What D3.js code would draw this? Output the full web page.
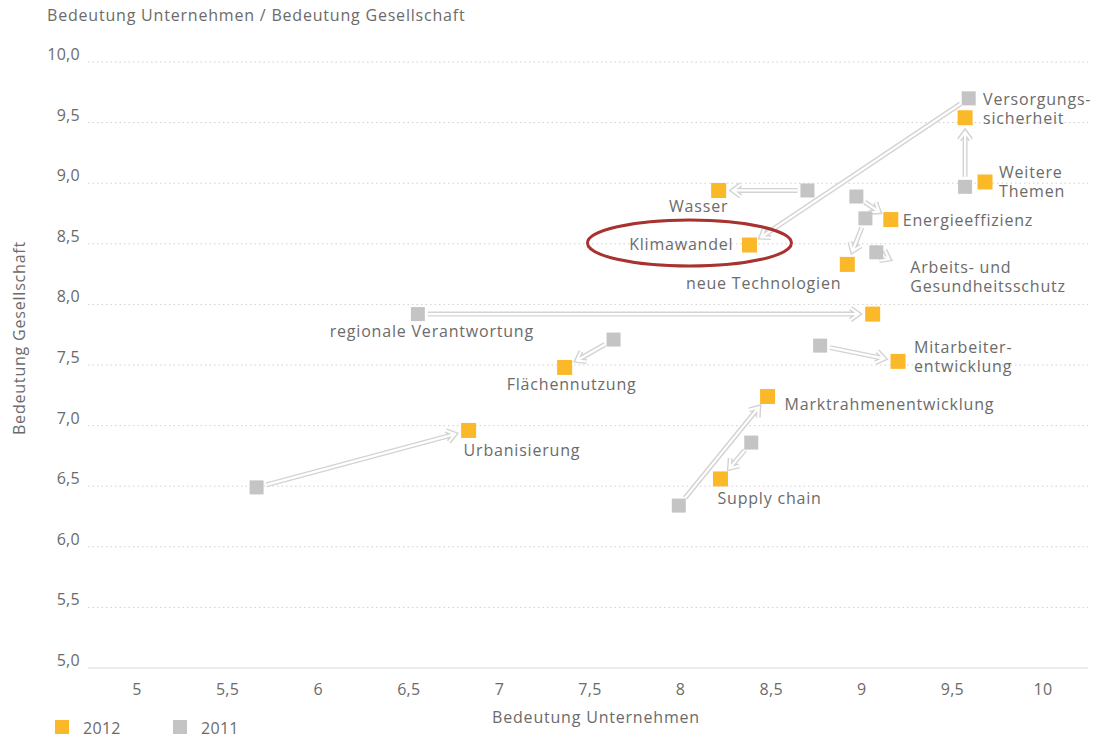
<!DOCTYPE html>
<html>
<head>
<meta charset="utf-8">
<script src="https://cdn.jsdelivr.net/npm/d3@7"></script>
<style>
body { margin: 0; background: #fff; }
text { font-family: "Open Sans", "Noto Sans", sans-serif; fill: #6b6b6b; letter-spacing: 0.8px; }
.tick-label { letter-spacing: 0.3px; }
.grid line { stroke: #cfcfcf; stroke-dasharray: 1.5 3; }
</style>
</head>
<body>
<script>
// topics and their values (x = Bedeutung Unternehmen, y = Bedeutung Gesellschaft)
var topics = ["Versorgungssicherheit", "Weitere Themen", "Wasser", "Energieeffizienz", "Klimawandel",
	"neue Technologien", "Arbeits- und Gesundheitsschutz", "regionale Verantwortung",
	"Mitarbeiterentwicklung", "Flächennutzung", "Marktrahmenentwicklung", "Urbanisierung", "Supply chain"];
var x2012 = [9.57, 9.68, 8.21, 9.16, 8.38, 8.92, 9.22, 9.06, 9.20, 7.36, 8.48, 6.83, 8.22];
var y2012 = [9.54, 9.01, 8.94, 8.70, 8.49, 8.33, 8.32, 7.92, 7.53, 7.48, 7.24, 6.96, 6.56];
var x2011 = [9.57, null, 8.70, 8.97, 9.59, 9.02, 9.08, 6.55, 8.77, 7.63, 7.99, 5.66, 8.39];
var y2011 = [8.97, null, 8.94, 8.89, 9.70, 8.71, 8.43, 7.92, 7.66, 7.71, 6.34, 6.49, 6.86];
var hide2012 = ["Arbeits- und Gesundheitsschutz"];

var xTicks = [5, 5.5, 6, 6.5, 7, 7.5, 8, 8.5, 9, 9.5, 10];
var yTicks = [5, 5.5, 6, 6.5, 7, 7.5, 8, 8.5, 9, 9.5, 10];
var seriesNames = ["2012", "2011"];
var colors = {"2012": "#fbb829", "2011": "#c4c4c4"};

// label placement (offset from the marker, lines)
var labels = {
	"Versorgungssicherheit": {ref: "2012", dx: 18, dy: -13, anchor: "start", lines: ["Versorgungs-", "sicherheit"]},
	"Weitere Themen": {ref: "2012", dx: 14, dy: -4, anchor: "start", lines: ["Weitere", "Themen"]},
	"Wasser": {ref: "2012", dx: -20, dy: 22, anchor: "middle", lines: ["Wasser"]},
	"Energieeffizienz": {ref: "2012", dx: 12, dy: 6, anchor: "start", lines: ["Energieeffizienz"]},
	"Klimawandel": {ref: "2012", dx: -16, dy: 5, anchor: "end", lines: ["Klimawandel"]},
	"neue Technologien": {ref: "2012", dx: -6, dy: 25, anchor: "end", lines: ["neue Technologien"]},
	"Arbeits- und Gesundheitsschutz": {ref: "2011", dx: 34, dy: 21, anchor: "start", lines: ["Arbeits- und", "Gesundheitsschutz"]},
	"regionale Verantwortung": {ref: "2011", dx: 14, dy: 23, anchor: "middle", lines: ["regionale Verantwortung"]},
	"Mitarbeiterentwicklung": {ref: "2012", dx: 16, dy: -8, anchor: "start", lines: ["Mitarbeiter-", "entwicklung"]},
	"Flächennutzung": {ref: "2012", dx: 7, dy: 23, anchor: "middle", lines: ["Flächennutzung"]},
	"Marktrahmenentwicklung": {ref: "2012", dx: 17, dy: 13, anchor: "start", lines: ["Marktrahmenentwicklung"]},
	"Urbanisierung": {ref: "2012", dx: -5, dy: 26, anchor: "start", lines: ["Urbanisierung"]},
	"Supply chain": {ref: "2012", dx: -3, dy: 25, anchor: "start", lines: ["Supply chain"]}
};

var width = 1098, height = 742;
var x = d3.scaleLinear().domain([5, 10]).range([137, 1043]);
var y = d3.scaleLinear().domain([5, 10]).range([668, 62]);
var left = 88, right = 1088;

var svg = d3.select("body").append("svg")
	.attr("width", width)
	.attr("height", height);

// title
svg.append("text")
	.attr("x", 47).attr("y", 21)
	.style("font-size", "16px")
	.text("Bedeutung Unternehmen / Bedeutung Gesellschaft");

// grid
svg.append("g").attr("class", "grid")
	.selectAll("line")
	.data(yTicks.filter(function(d){ return d > 5; }))
	.enter().append("line")
	.attr("x1", left).attr("x2", right)
	.attr("y1", function(d){ return y(d); })
	.attr("y2", function(d){ return y(d); });

svg.append("line")
	.attr("x1", left).attr("x2", right)
	.attr("y1", y(5)).attr("y2", y(5))
	.style("stroke", "#dcdcdc").style("stroke-width", 1.2);

var fmt = function(d){ return d3.format(".1f")(d).replace(".", ","); };
var fmtX = function(d){ return String(d).replace(".", ","); };

svg.append("g").selectAll("text")
	.data(yTicks)
	.enter().append("text")
	.attr("class", "tick-label")
	.attr("x", 80)
	.attr("y", function(d){ return y(d) - 2; })
	.attr("text-anchor", "end")
	.style("font-size", "16px")
	.text(fmt);

svg.append("g").selectAll("text")
	.data(xTicks)
	.enter().append("text")
	.attr("class", "tick-label")
	.attr("x", function(d){ return x(d); })
	.attr("y", 695)
	.attr("text-anchor", "middle")
	.style("font-size", "16px")
	.text(fmtX);

// axis titles
svg.append("text")
	.attr("x", 596).attr("y", 723)
	.attr("text-anchor", "middle")
	.style("font-size", "16px")
	.text("Bedeutung Unternehmen");

svg.append("text")
	.attr("transform", "translate(25,338) rotate(-90)")
	.attr("text-anchor", "middle")
	.style("font-size", "16px")
	.text("Bedeutung Gesellschaft");

// build rows
var rows = topics.map(function(t, i){
	return {name: t, x12: x2012[i], y12: y2012[i], x11: x2011[i], y11: y2011[i]};
});

// arrows from 2011 to 2012
function arrowPath(d) {
	var x0 = x(d.x11), y0 = y(d.y11), x1 = x(d.x12), y1 = y(d.y12);
	var dx = x1 - x0, dy = y1 - y0, len = Math.sqrt(dx * dx + dy * dy);
	var ux = dx / len, uy = dy / len;
	var sx = x0 + ux * 10, sy = y0 + uy * 10;
	var ex = x1 - ux * 14, ey = y1 - uy * 14;
	var h = 10, a = Math.PI / 5;
	var ang = Math.atan2(uy, ux);
	var h1x = ex - h * Math.cos(ang - a), h1y = ey - h * Math.sin(ang - a);
	var h2x = ex - h * Math.cos(ang + a), h2y = ey - h * Math.sin(ang + a);
	return "M" + sx + "," + sy + "L" + ex + "," + ey +
		"M" + h1x + "," + h1y + "L" + ex + "," + ey + "L" + h2x + "," + h2y;
}

var arrows = svg.append("g").selectAll("g")
	.data(rows.filter(function(d){ return d.x11 != null; }))
	.enter().append("g");

arrows.append("path")
	.attr("d", arrowPath)
	.style("fill", "none")
	.style("stroke", "#d3d3d3")
	.style("stroke-width", 5)
	.style("stroke-linejoin", "miter");
arrows.append("path")
	.attr("d", arrowPath)
	.style("fill", "none")
	.style("stroke", "#fff")
	.style("stroke-width", 2.2)
	.style("stroke-linejoin", "miter");

// markers
svg.append("g").selectAll("rect")
	.data(rows.filter(function(d){ return d.x11 != null; }))
	.enter().append("rect")
	.attr("x", function(d){ return x(d.x11) - 7; })
	.attr("y", function(d){ return y(d.y11) - 7; })
	.attr("width", 14).attr("height", 14)
	.style("fill", colors["2011"]);

svg.append("g").selectAll("rect")
	.data(rows.filter(function(d){ return hide2012.indexOf(d.name) < 0; }))
	.enter().append("rect")
	.attr("x", function(d){ return x(d.x12) - 7.5; })
	.attr("y", function(d){ return y(d.y12) - 7.5; })
	.attr("width", 15).attr("height", 15)
	.style("fill", colors["2012"]);

// labels
rows.forEach(function(d){
	var l = labels[d.name];
	var px = l.ref == "2012" ? x(d.x12) : x(d.x11);
	var py = l.ref == "2012" ? y(d.y12) : y(d.y11);
	var t = svg.append("text")
		.attr("x", px + l.dx)
		.attr("y", py + l.dy)
		.attr("text-anchor", l.anchor)
		.style("font-size", "16px");
	l.lines.forEach(function(s, i){
		t.append("tspan")
			.attr("x", px + l.dx)
			.attr("dy", i == 0 ? 0 : 19)
			.text(s);
	});
});

// highlight ellipse around Klimawandel
var kl = rows[topics.indexOf("Klimawandel")];
svg.append("ellipse")
	.attr("cx", x(kl.x12) - 60)
	.attr("cy", y(kl.y12) - 2)
	.attr("rx", 102).attr("ry", 23)
	.style("fill", "none")
	.style("stroke", "#a8322f")
	.style("stroke-width", 3);

// legend
var leg = svg.append("g").selectAll("g")
	.data(seriesNames)
	.enter().append("g")
	.attr("transform", function(d, i){ return "translate(" + (55 + i * 118) + ",720)"; });
leg.append("rect")
	.attr("width", 14).attr("height", 14)
	.style("fill", function(d){ return colors[d]; });
leg.append("text")
	.attr("class", "tick-label")
	.attr("x", 28).attr("y", 14)
	.style("font-size", "16px")
	.text(function(d){ return d; });
</script>
</body>
</html>
